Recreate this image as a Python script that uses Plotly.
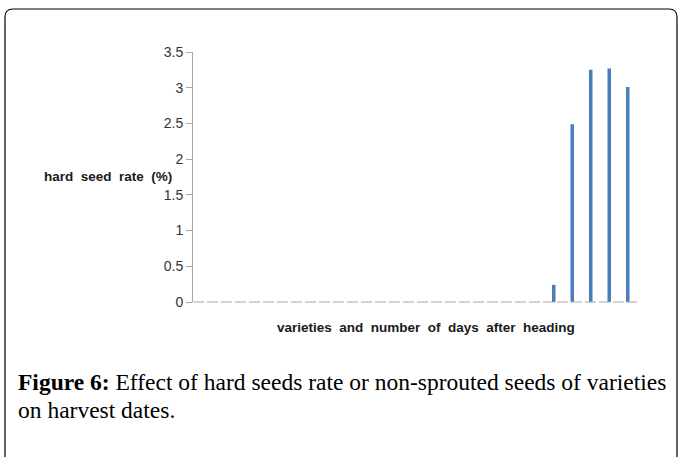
import plotly.graph_objects as go

categories = [str(i) for i in range(1, 25)]
hard_seed_rate = [0, 0, 0, 0, 0, 0, 0, 0, 0, 0, 0, 0, 0, 0, 0, 0, 0, 0, 0,
                  0.24, 2.49, 3.25, 3.27, 3.01]
y_ticks = [0, 0.5, 1, 1.5, 2, 2.5, 3, 3.5]
y_tick_labels = ["0", "0.5", "1", "1.5", "2", "2.5", "3", "3.5"]

W, H = 678, 457
L, R, T, B = 193, 637, 52, 302  # plot area in pixels
pw, ph = R - L, B - T


def px(x):
    return (x - L) / pw


def py(y):
    return (B - y) / ph


fig = go.Figure()
fig.add_trace(go.Bar(
    x=categories, y=hard_seed_rate,
    marker=dict(color="#4A7EBB", line=dict(width=0)),
    width=0.19,
))

# outer rounded border
x0, x1 = px(5), px(677)
yt, yb = py(9), py(470)
rx, ry = 8 / pw, 8 / ph
path = (f"M {x0},{yb} L {x0},{yt - ry} Q {x0},{yt} {x0 + rx},{yt} "
        f"L {x1 - rx},{yt} Q {x1},{yt} {x1},{yt - ry} L {x1},{yb}")
shapes = [
    dict(type="path", xref="paper", yref="paper", path=path,
         line=dict(color="black", width=1.2)),
    dict(type="line", xref="paper", yref="paper", x0=0, x1=1, y0=0, y1=0,
         line=dict(color="#A6A6A6", width=1, dash="11px,3px")),
]

annotations = [
    dict(text="<b>hard  seed  rate  (%)</b>", xref="paper", yref="paper",
         x=px(42), y=py(176), xanchor="left", yanchor="middle", showarrow=False,
         font=dict(family="Liberation Sans", size=13.5, color="#1a1a1a")),
    dict(text="<b>varieties  and  number  of  days  after  heading</b>", xref="paper", yref="paper",
         x=px(426), y=py(327), xanchor="center", yanchor="middle", showarrow=False,
         font=dict(family="Liberation Sans", size=13.5, color="#1a1a1a")),
    dict(text="<b>Figure 6:</b> Effect of hard seeds rate or non-sprouted seeds of varieties",
         xref="paper", yref="paper", x=px(16), y=py(382), xanchor="left", yanchor="middle",
         showarrow=False, font=dict(family="Liberation Serif", size=23.5, color="black")),
    dict(text="on harvest dates.",
         xref="paper", yref="paper", x=px(16), y=py(410), xanchor="left", yanchor="middle",
         showarrow=False, font=dict(family="Liberation Serif", size=23.5, color="black")),
]

fig.update_layout(
    width=W, height=H,
    margin=dict(l=L, r=W - R, t=T, b=H - B, pad=0),
    paper_bgcolor="white", plot_bgcolor="white",
    showlegend=False,
    shapes=shapes, annotations=annotations,
    xaxis=dict(showticklabels=False, showgrid=False, zeroline=False, showline=False,
               ticks="", range=[-0.5, 23.5]),
    yaxis=dict(range=[0, 3.5], tickvals=y_ticks, ticktext=y_tick_labels,
               showgrid=False, zeroline=False, showline=True, linecolor="#A6A6A6",
               linewidth=1, ticks="outside", ticklen=6, tickcolor="#A6A6A6",
               tickfont=dict(family="Liberation Sans", size=14, color="#333333")),
)

fig.write_html("out.html", config={"displayModeBar": False},
               post_script="document.body.style.margin='0';document.body.style.overflow='hidden';")
